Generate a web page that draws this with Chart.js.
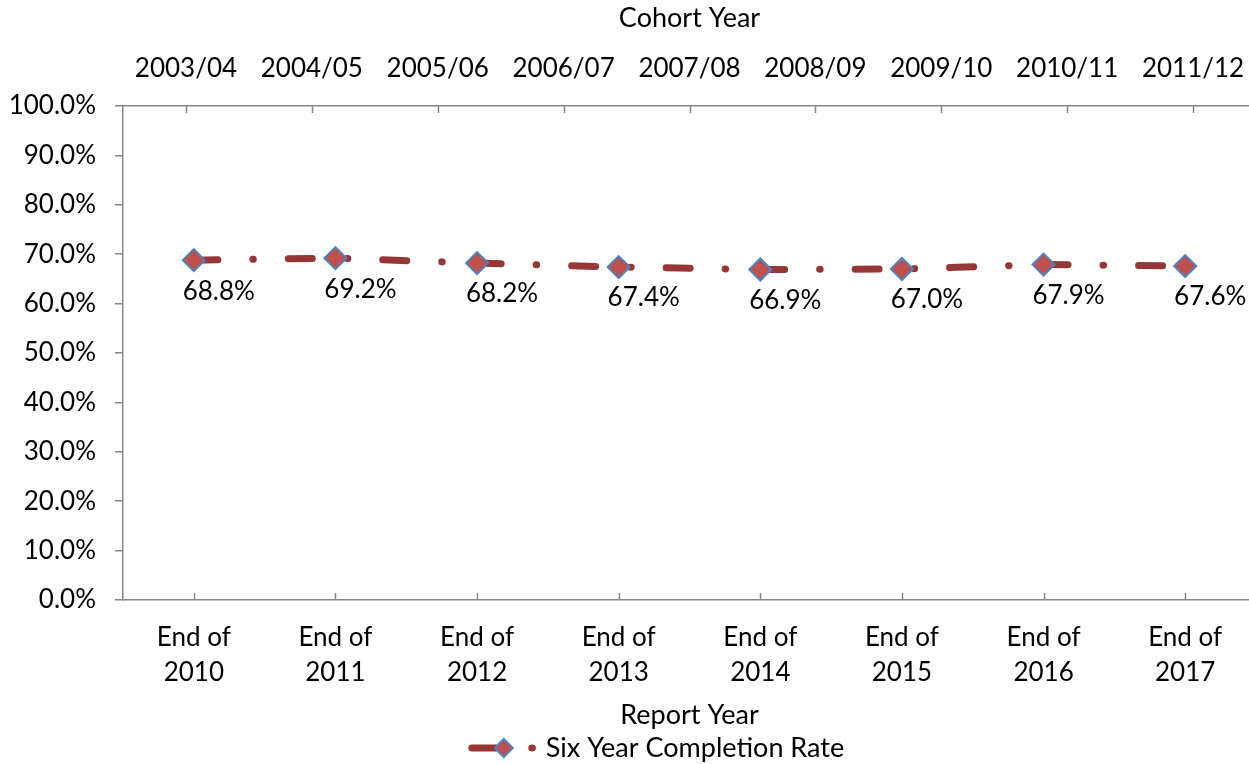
<!DOCTYPE html>
<html>
<head>
<meta charset="utf-8">
<title>Six Year Completion Rate</title>
<script src="https://cdn.jsdelivr.net/npm/chart.js@4/dist/chart.umd.min.js"></script>
<style>
  html, body { margin: 0; padding: 0; background: #fff; overflow: hidden; }
  #wrap { width: 1249px; height: 764px; overflow: hidden; }
</style>
</head>
<body>
<div id="wrap"><canvas id="chart" width="1256" height="764"></canvas></div>
<script>
// Data
const reportYears = [
  ["End of", "2010"], ["End of", "2011"], ["End of", "2012"], ["End of", "2013"],
  ["End of", "2014"], ["End of", "2015"], ["End of", "2016"], ["End of", "2017"],
];
const cohortYears = ["2003/04", "2004/05", "2005/06", "2006/07", "2007/08",
                     "2008/09", "2009/10", "2010/11", "2011/12"];
const completionRate = [68.8, 69.2, 68.2, 67.4, 66.9, 67.0, 67.9, 67.6];
const seriesName = "Six Year Completion Rate";

const FONT = "Lato, 'Open Sans', sans-serif";
const NUM_SIZE = 26;
const TXT_SIZE = 27;
const AXIS_GREY = "#868686";
const LINE_RED = "#953735";
const MARK_FILL = "#C0504D";
const MARK_EDGE = "#4F81BD";
const DASH = [24, 35, 0.5, 35];

// short tick marks pointing into the plot (top + bottom category axes)
const innerTicks = {
  id: "innerTicks",
  afterDraw(chart) {
    const ctx = chart.ctx;
    ctx.save();
    ctx.strokeStyle = AXIS_GREY;
    ctx.lineWidth = 1.5;
    ["x", "x2"].forEach((id) => {
      const sc = chart.scales[id];
      const y0 = id === "x" ? sc.top : sc.bottom;
      const dir = id === "x" ? -1 : 1;
      sc.ticks.forEach((t, i) => {
        const px = Math.round(sc.getPixelForTick(i)) + 0.5;
        ctx.beginPath();
        ctx.moveTo(px, y0);
        ctx.lineTo(px, y0 + dir * 7);
        ctx.stroke();
      });
    });
    ctx.restore();
  },
};

// value labels under each point
const valueLabels = {
  id: "valueLabels",
  afterDatasetsDraw(chart) {
    const ctx = chart.ctx;
    const meta = chart.getDatasetMeta(0);
    ctx.save();
    ctx.font = NUM_SIZE + "px " + FONT;
    ctx.fillStyle = "#000";
    ctx.textAlign = "center";
    ctx.textBaseline = "middle";
    meta.data.forEach((pt, i) => {
      const v = chart.data.datasets[0].data[i];
      ctx.fillText(v.toFixed(1) + "%", pt.x + 25, pt.y + 31);
    });
    ctx.restore();
  },
};

// Excel-style legend: dashed line sample + diamond + dot + name
const excelLegend = {
  id: "excelLegend",
  afterDraw(chart) {
    const ctx = chart.ctx;
    const ds = chart.data.datasets[0];
    const area = chart.chartArea;
    const y = chart.height - 16;
    ctx.save();
    ctx.font = TXT_SIZE + "px " + FONT;
    const tw = ctx.measureText(ds.label).width;
    const total = 77 + tw;
    const x0 = (area.left + area.right) / 2 - 33 - total / 2;

    ctx.strokeStyle = LINE_RED;
    ctx.lineWidth = 7;
    ctx.lineCap = "round";
    ctx.beginPath();
    ctx.moveTo(x0 + 3, y);
    ctx.lineTo(x0 + 34, y);
    ctx.stroke();
    ctx.beginPath();
    ctx.moveTo(x0 + 63, y);
    ctx.lineTo(x0 + 63.5, y);
    ctx.stroke();

    const r = 9;
    const cx = x0 + 35;
    ctx.beginPath();
    ctx.moveTo(cx, y - r);
    ctx.lineTo(cx + r, y);
    ctx.lineTo(cx, y + r);
    ctx.lineTo(cx - r, y);
    ctx.closePath();
    ctx.fillStyle = MARK_FILL;
    ctx.fill();
    ctx.strokeStyle = MARK_EDGE;
    ctx.lineWidth = 2;
    ctx.lineCap = "butt";
    ctx.stroke();

    ctx.fillStyle = "#000";
    ctx.textAlign = "left";
    ctx.textBaseline = "middle";
    ctx.fillText(ds.label, x0 + 77, y);
    ctx.restore();
  },
};

function noSidePad(sc) {
  sc.paddingLeft = 0;
  sc.paddingRight = 0;
}

new Chart(document.getElementById("chart").getContext("2d"), {
  type: "line",
  data: {
    labels: reportYears,
    datasets: [{
      label: seriesName,
      data: completionRate,
      borderColor: LINE_RED,
      borderWidth: 7,
      borderDash: DASH,
      borderCapStyle: "round",
      tension: 0,
      pointStyle: "rectRot",
      pointRadius: 11,
      pointHoverRadius: 11,
      pointBackgroundColor: MARK_FILL,
      pointBorderColor: MARK_EDGE,
      pointBorderWidth: 2,
    }],
  },
  options: {
    responsive: false,
    animation: false,
    layout: { autoPadding: false, padding: { top: 0, right: 0, bottom: 33, left: 0 } },
    plugins: {
      legend: { display: false },
      tooltip: { enabled: false },
    },
    scales: {
      x: {
        type: "category",
        position: "bottom",
        offset: true,
        grid: { display: true, drawOnChartArea: false, drawTicks: false },
        border: { display: true, color: AXIS_GREY, width: 1.5 },
        ticks: {
          color: "#000",
          font: { family: FONT, size: NUM_SIZE, lineHeight: 1.35 },
          padding: 20,
          maxRotation: 0,
          autoSkip: false,
        },
        title: {
          display: true,
          text: "Report Year",
          color: "#000",
          font: { family: FONT, size: TXT_SIZE, lineHeight: 1.2 },
          padding: { top: 0, bottom: 0 },
        },
        afterFit(sc) { sc.height = 131; noSidePad(sc); },
      },
      x2: {
        type: "category",
        position: "top",
        labels: cohortYears,
        offset: true,
        grid: { display: true, drawOnChartArea: false, drawTicks: false },
        border: { display: true, color: AXIS_GREY, width: 1.5 },
        ticks: {
          color: "#000",
          font: { family: FONT, size: NUM_SIZE, lineHeight: 1.2 },
          padding: 22,
          maxRotation: 0,
          autoSkip: false,
        },
        title: {
          display: true,
          text: "Cohort Year",
          color: "#000",
          font: { family: FONT, size: TXT_SIZE, lineHeight: 1.2 },
          padding: { top: 2, bottom: 0 },
        },
        afterFit(sc) { sc.height = 106; noSidePad(sc); },
      },
      y: {
        min: 0,
        max: 100,
        grid: { display: true, drawOnChartArea: false, drawTicks: true, tickLength: 8, color: AXIS_GREY, lineWidth: 1.5 },
        border: { display: true, color: AXIS_GREY, width: 1.5 },
        ticks: {
          stepSize: 10,
          color: "#000",
          font: { family: FONT, size: NUM_SIZE },
          padding: 19,
          callback: (v) => v.toFixed(1) + "%",
        },
        afterFit(sc) { sc.width = 123; sc.paddingTop = 0; sc.paddingBottom = 0; },
      },
    },
  },
  plugins: [innerTicks, valueLabels, excelLegend],
});
</script>
</body>
</html>
